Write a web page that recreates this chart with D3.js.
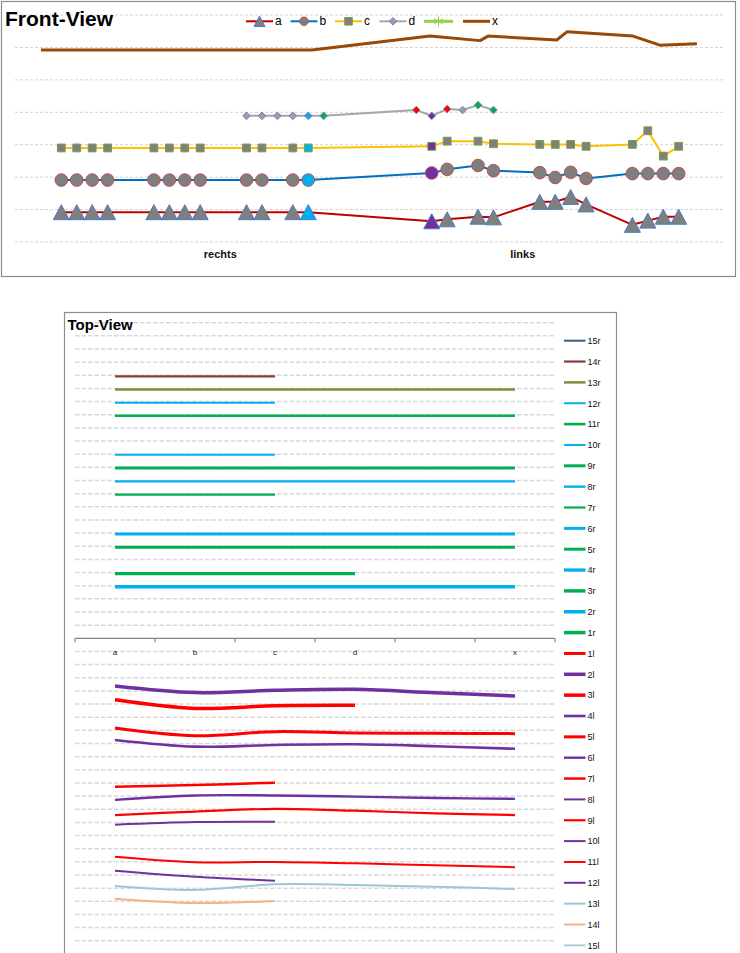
<!DOCTYPE html>
<html><head><meta charset="utf-8">
<script src="https://cdn.jsdelivr.net/npm/d3@7"></script>
<style>body{margin:0;background:#fff;} svg{display:block;font-family:"Liberation Sans",Arial,sans-serif;}</style>
</head><body>
<svg id="c" width="740" height="953"></svg>
<script>
const N = null;
// ================= FRONT-VIEW DATA =================
const frontCategories = d3.range(0, 41);           // category index 0..40
const frontGroups = ["rechts", "links"];
const frontGroupCenters = [10.3, 29.9];              // in category-index units
//                 0    1    2    3    4  5  6    7    8    9   10 11  12   13  14  15   16  17 18 19 20 21 22 23  24   25  26  27   28  29 30  31   32   33   34  35 36  37   38   39   40
const seriesA = [.92, .92, .92, .92, N, N, .92, .92, .92, .92, N, N, .92, .92, N, .92, .92, N, N, N, N, N, N, N, .64, .70, N, .78, .76, N, N, 1.24,1.24,1.39,1.16, N, N, .53, .66, .78, .78];
const seriesB = [1.91,1.91,1.91,1.91,N, N, 1.91,1.91,1.91,1.91,N, N, 1.91,1.91,N, 1.91,1.91,N, N, N, N, N, N, N, 2.13,2.24,N, 2.36,2.20,N, N, 2.14,1.99,2.15,1.96,N, N, 2.11,2.11,2.11,2.11];
const seriesC = [2.90,2.90,2.90,2.90,N, N, 2.90,2.90,2.90,2.90,N, N, 2.90,2.90,N, 2.90,2.90,N, N, N, N, N, N, N, 2.95,3.11,N, 3.11,3.03,N, N, 3.01,3.01,3.01,2.95,N, N, 3.01,3.43,2.65,2.95];
const seriesD = [N,   N,   N,   N,   N, N, N,   N,   N,   N,   N, N, 3.89,3.89,3.89,3.89,3.89,3.89,N,N,N,N,N, 4.07,3.89,4.10,4.07,4.22,4.07,N,N, N,   N,   N,   N,   N, N, N,   N,   N,   N];
const seriesStar = [];                                // legend-only series
const seriesXPos = [-1.32, 16.24, 23.89, 27.13, 27.65, 32.10, 32.76, 37.04, 38.78, 41.18];
const seriesXVal = [5.92, 5.92, 6.35, 6.21, 6.35, 6.23, 6.48, 6.35, 6.07, 6.11];
const frontLegend = ["a", "b", "c", "d", "", "x"];

// ================= TOP-VIEW DATA =================
const topCategories = ["a", "b", "c", "d", "", "x"];
const r14 = [19.92, 19.92, 19.92, N, N, N];
const r13 = [18.92, 18.92, 18.92, 18.92, 18.92, 18.92];
const r12 = [17.92, 17.92, 17.92, N, N, N];
const r11 = [16.92, 16.92, 16.92, 16.92, 16.92, 16.92];
const r10 = [13.95, 13.95, 13.95, N, N, N];
const r9  = [12.95, 12.95, 12.95, 12.95, 12.95, 12.95];
const r8  = [11.93, 11.93, 11.93, 11.93, 11.93, 11.93];
const r7  = [10.93, 10.93, 10.93, N, N, N];
const r6  = [7.93, 7.93, 7.93, 7.93, 7.93, 7.93];
const r5  = [6.92, 6.92, 6.92, 6.92, 6.92, 6.92];
const r4  = [3.92, 3.92, 3.92, 3.92, 3.92, 3.92];
const r3  = [4.92, 4.92, 4.92, 4.92, N, N];
const l2  = [-3.63, -4.13, -3.95, -3.88, -4.14, -4.39];
const l3  = [-4.68, -5.33, -5.13, -5.10, N, N];
const l5  = [-6.82, -7.41, -7.10, -7.20, -7.22, -7.25];
const l4  = [-7.73, -8.24, -8.11, -8.06, -8.21, -8.40];
const l7  = [-11.28, -11.16, -10.98, N, N, N];
const l6  = [-12.29, -11.95, -11.95, -12.04, -12.14, -12.21];
const l9  = [-13.44, -13.18, -12.97, -13.11, -13.31, -13.44];
const l8  = [-14.17, -13.97, -13.95, N, N, N];
const l11 = [-16.61, -17.03, -17.01, -17.11, -17.26, -17.41];
const l10 = [-17.67, -18.13, -18.43, N, N, N];
const l13 = [-18.84, -19.14, -18.71, -18.76, -18.89, -19.07];
const l14 = [-19.80, -20.13, -19.98, N, N, N];
const topLegend = ["15r","14r","13r","12r","11r","10r","9r","8r","7r","6r","5r","4r","3r","2r","1r",
                   "1l","2l","3l","4l","5l","6l","7l","8l","9l","10l","11l","12l","13l","14l","15l"];
const topValues = {"14r": r14, "13r": r13, "12r": r12, "11r": r11, "10r": r10, "9r": r9, "8r": r8, "7r": r7,
                   "6r": r6, "5r": r5, "4r": r4, "3r": r3,
                   "2l": l2, "3l": l3, "5l": l5, "4l": l4, "7l": l7, "6l": l6, "9l": l9, "8l": l8,
                   "11l": l11, "10l": l10, "13l": l13, "14l": l14};

// ================= STYLES =================
const CY = "#00b0f0", GR = "#00b050", RD = "#ff0000", PU = "#7030a0";
const topColors = {"15r":"#3a5f8b","14r":"#8b3a3a","13r":"#77933c","12r":CY,"11r":GR,"10r":CY,"9r":GR,"8r":CY,"7r":GR,
  "6r":CY,"5r":GR,"4r":CY,"3r":GR,"2r":CY,"1r":GR,"1l":RD,"2l":PU,"3l":RD,"4l":PU,"5l":RD,"6l":PU,"7l":RD,"8l":PU,
  "9l":RD,"10l":PU,"11l":RD,"12l":PU,"13l":"#9ec6d6","14l":"#f4b183","15l":"#b8c6de"};
const topWidths = {"15r":2,"14r":2.2,"13r":2.5,"12r":2,"11r":2.6,"10r":2,"9r":3,"8r":2.4,"7r":2.2,"6r":3,"5r":3,"4r":3.3,
  "3r":3.4,"2r":3.5,"1r":3.5,"1l":3,"2l":3.5,"3l":3.5,"4l":2.6,"5l":3,"6l":2.4,"7l":2.5,"8l":2,"9l":2.2,"10l":2,"11l":2,
  "12l":2,"13l":2,"14l":2,"15l":2};
const abcHighlight = {16: CY, 24: PU};
const dHighlight = {16: CY, 17: GR, 23: RD, 24: PU, 25: RD, 27: GR, 28: GR};

const svg = d3.select("#c");

// ================= FRONT-VIEW =================
svg.append("rect").attr("x",1.5).attr("y",1.5).attr("width",734).attr("height",275)
  .attr("fill","#fff").attr("stroke","#8c8c8c").attr("stroke-width",1.2);

const xF = d3.scaleLinear().domain([-3, 43]).range([15, 725]);
const yF = d3.scaleLinear().domain([0, 7]).range([242, 15]);

svg.append("g").selectAll("line").data(d3.range(0, 8)).join("line")
  .attr("x1", xF(-3)).attr("x2", xF(43))
  .attr("y1", d => yF(d)).attr("y2", d => yF(d))
  .attr("stroke", "#d3d3d3").attr("stroke-width", 1).attr("stroke-dasharray", "3,2");

function markerPath(shape, x, y, s) {
  const p = d3.path();
  if (shape === "tri") { p.moveTo(x - s, y + s * 0.94); p.lineTo(x + s, y + s * 0.94); p.lineTo(x, y - s * 0.94); p.closePath(); }
  else if (shape === "circle") { p.moveTo(x + s, y); p.arc(x, y, s, 0, 2 * Math.PI); p.closePath(); }
  else if (shape === "square") { p.rect(x - s, y - s, 2 * s, 2 * s); }
  else if (shape === "diamond") { p.moveTo(x, y - s); p.lineTo(x + s, y); p.lineTo(x, y + s); p.lineTo(x - s, y); p.closePath(); }
  return p.toString();
}

const frontSeries = [
  {vals: seriesA, line: "#c00000", lw: 2, shape: "tri", size: 8, fill: "#7f7f7f", stroke: "#4a7ebb", hi: abcHighlight},
  {vals: seriesB, line: "#0070c0", lw: 2, shape: "circle", size: 6.3, fill: "#7f7f7f", stroke: "#c0504d", hi: abcHighlight},
  {vals: seriesC, line: "#ffc000", lw: 2, shape: "square", size: 3.9, fill: "#7f7f7f", stroke: "#77a040", hi: abcHighlight},
  {vals: seriesD, line: "#a6a6a6", lw: 2, shape: "diamond", size: 3.8, fill: "#9c9cb0", stroke: "#8a7aa8", hi: dHighlight}
];
const lineF = d3.line().x(d => xF(d.i)).y(d => yF(d.v));
frontSeries.forEach(s => {
  const pts = frontCategories.map(i => ({i, v: s.vals[i]})).filter(d => d.v != null);
  svg.append("path").datum(pts).attr("d", lineF).attr("fill", "none")
    .attr("stroke", s.line).attr("stroke-width", s.lw).attr("stroke-linejoin", "round");
  svg.append("g").selectAll("path").data(pts).join("path")
    .attr("d", d => markerPath(s.shape, xF(d.i), yF(d.v), s.size))
    .attr("fill", d => s.hi[d.i] || s.fill).attr("stroke", s.stroke).attr("stroke-width", 1);
});
// x series
const xPts = seriesXPos.map((p, k) => ({i: p, v: seriesXVal[k]}));
svg.append("path").datum(xPts).attr("d", lineF).attr("fill", "none")
  .attr("stroke", "#984807").attr("stroke-width", 3).attr("stroke-linejoin", "round");

// group labels
svg.append("g").selectAll("text").data(frontGroups).join("text")
  .attr("x", (d, k) => xF(frontGroupCenters[k])).attr("y", 257.5)
  .attr("text-anchor", "middle").attr("font-size", 11).attr("font-weight", "bold").attr("fill", "#111")
  .text(d => d);

// title
svg.append("text").attr("x", 5).attr("y", 26).attr("font-size", 21).attr("font-weight", "bold").text("Front-View");

// legend
const legStyles = [
  {line: "#c00000", lw: 2, shape: "tri", size: 5.5, fill: "#7f7f7f", stroke: "#4a7ebb"},
  {line: "#0070c0", lw: 2, shape: "circle", size: 4.3, fill: "#7f7f7f", stroke: "#c0504d"},
  {line: "#ffc000", lw: 2, shape: "square", size: 3.8, fill: "#7f7f7f", stroke: "#77a040"},
  {line: "#a6a6a6", lw: 2, shape: "diamond", size: 3.8, fill: "#9c9cb0", stroke: "#8a7aa8"},
  {line: "#92d050", lw: 3, shape: "star", size: 5},
  {line: "#984807", lw: 3, shape: null}
];
let lx = 246;
const ly = 21.3;
frontLegend.forEach((name, k) => {
  const st = legStyles[k];
  const len = name ? 27 : 29;
  const g = svg.append("g");
  g.append("line").attr("x1", lx).attr("x2", lx + len).attr("y1", ly).attr("y2", ly)
    .attr("stroke", st.line).attr("stroke-width", st.lw);
  const cx = lx + len / 2;
  if (st.shape === "star") {
    [[0, 1], [0.87, 0.5], [0.87, -0.5]].forEach(([a, b]) => {
      g.append("line").attr("x1", cx - a * st.size).attr("x2", cx + a * st.size)
        .attr("y1", ly - b * st.size).attr("y2", ly + b * st.size).attr("stroke", st.line).attr("stroke-width", 1);
    });
  } else if (st.shape) {
    g.append("path").attr("d", markerPath(st.shape, cx, ly, st.size)).attr("fill", st.fill)
      .attr("stroke", st.stroke).attr("stroke-width", 1);
  }
  if (name) g.append("text").attr("x", lx + len + 2).attr("y", ly + 4).attr("font-size", 12).text(name);
  lx += name ? 44.5 : 39;
});

// ================= TOP-VIEW =================
svg.append("rect").attr("x", 64.5).attr("y", 312.5).attr("width", 552).attr("height", 700)
  .attr("fill", "#fff").attr("stroke", "#8c8c8c").attr("stroke-width", 1.2);

const xT = d3.scaleBand().domain(d3.range(topCategories.length)).range([75, 555]);
const yT = d3.scaleLinear().domain([-24, 24]).range([953.9, 322.7]);

svg.append("g").selectAll("line").data(d3.range(-23, 25).filter(v => v !== 0)).join("line")
  .attr("x1", 75).attr("x2", 555).attr("y1", d => yT(d)).attr("y2", d => yT(d))
  .attr("stroke", "#d9d9d9").attr("stroke-width", 1.5).attr("stroke-dasharray", "4.5,2");

// axis
const axT = svg.append("g").attr("transform", `translate(0,${yT(0)})`);
axT.append("line").attr("x1", 75).attr("x2", 555).attr("stroke", "#868686").attr("stroke-width", 1.2);
axT.selectAll("line.tk").data(d3.range(topCategories.length + 1)).join("line").attr("class", "tk")
  .attr("x1", d => 75 + d * xT.step()).attr("x2", d => 75 + d * xT.step())
  .attr("y1", 0).attr("y2", 4).attr("stroke", "#868686").attr("stroke-width", 1.2);
svg.append("g").selectAll("text").data(topCategories).join("text")
  .attr("x", (d, i) => xT(i) + xT.bandwidth() / 2).attr("y", 655)
  .attr("text-anchor", "middle").attr("font-size", 8).attr("fill", "#222").text(d => d);

svg.append("text").attr("x", 67.5).attr("y", 329.5).attr("font-size", 15).attr("font-weight", "bold").text("Top-View");

const lineT = d3.line().x(d => xT(d.i) + xT.bandwidth() / 2).y(d => yT(d.v)).curve(d3.curveCardinal.tension(0));
topLegend.forEach(name => {
  const vals = topValues[name];
  if (!vals) return;
  const pts = vals.map((v, i) => ({i, v})).filter(d => d.v != null);
  svg.append("path").datum(pts).attr("d", lineT).attr("fill", "none")
    .attr("stroke", topColors[name]).attr("stroke-width", topWidths[name]);
});

// legend
const tl = svg.append("g");
topLegend.forEach((name, k) => {
  const y = 340.7 + k * 20.85;
  tl.append("line").attr("x1", 564).attr("x2", 585.5).attr("y1", y).attr("y2", y)
    .attr("stroke", topColors[name]).attr("stroke-width", topWidths[name]);
  tl.append("text").attr("x", 587.5).attr("y", y + 3.3).attr("font-size", 9).attr("fill", "#111").text(name);
});
</script>
</body></html>
